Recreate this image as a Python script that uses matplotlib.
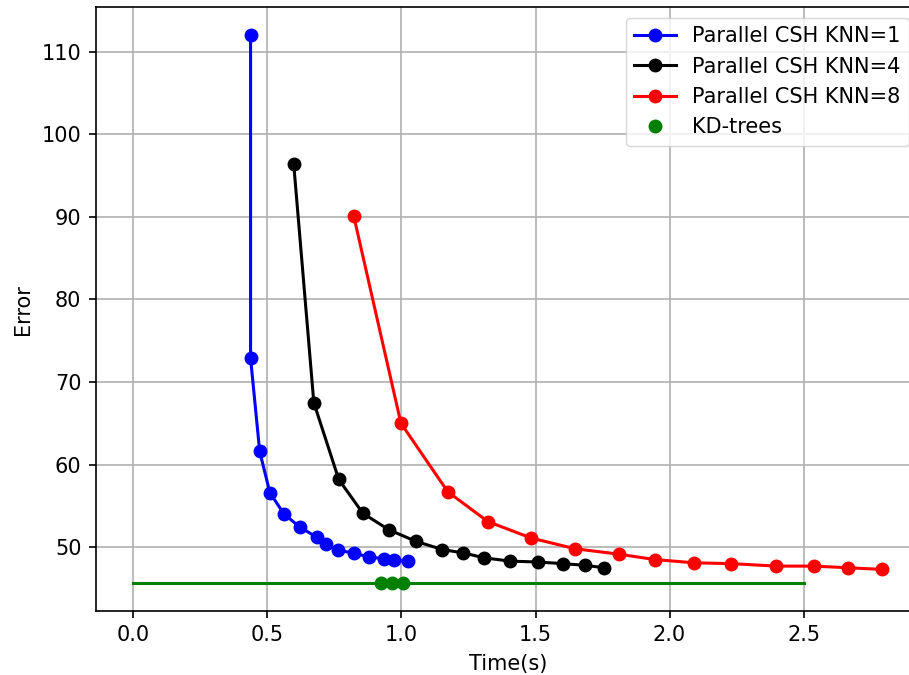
import matplotlib
matplotlib.use('Agg')
import matplotlib.pyplot as plt

plt.rcParams['font.size'] = 15
plt.rcParams['axes.labelpad'] = 6
plt.rcParams['xtick.major.pad'] = 5.25
plt.rcParams['ytick.major.pad'] = 5.25

# time (s) and error for each method
t_knn1 = [0.437, 0.437, 0.471, 0.509, 0.562, 0.622, 0.684, 0.72, 0.764, 0.821, 0.878, 0.933, 0.973, 1.023]
e_knn1 = [112.06, 72.9, 61.6, 56.6, 54.0, 52.4, 51.2, 50.4, 49.6, 49.3, 48.8, 48.6, 48.4, 48.3]

t_knn4 = [0.598, 0.673, 0.766, 0.856, 0.953, 1.054, 1.153, 1.231, 1.309, 1.406, 1.508, 1.602, 1.683, 1.757]
e_knn4 = [96.4, 67.5, 58.2, 54.1, 52.1, 50.7, 49.7, 49.3, 48.7, 48.3, 48.2, 48.0, 47.8, 47.5]

t_knn8 = [0.822, 0.998, 1.173, 1.322, 1.484, 1.648, 1.81, 1.944, 2.091, 2.231, 2.399, 2.539, 2.667, 2.793]
e_knn8 = [90.1, 65.0, 56.7, 53.1, 51.1, 49.8, 49.15, 48.5, 48.1, 48.0, 47.7, 47.7, 47.5, 47.3]

t_kd = [0.923, 0.964, 1.005]
e_kd = [45.6, 45.6, 45.6]
kd_line_x = [0.0, 2.5]

lw = 2.2
ms = 9

fig, ax = plt.subplots(figsize=(9.09, 6.75), dpi=100)
ax.plot(t_knn1, e_knn1, 'b-o', lw=lw, ms=ms, label='Parallel CSH KNN=1')
ax.plot(t_knn4, e_knn4, 'k-o', lw=lw, ms=ms, label='Parallel CSH KNN=4')
ax.plot(t_knn8, e_knn8, 'r-o', lw=lw, ms=ms, label='Parallel CSH KNN=8')
ax.plot(t_kd, e_kd, 'go', ms=ms, label='KD-trees')
ax.plot(kd_line_x, [e_kd[0]] * 2, 'g-', lw=lw)

ax.grid(True, color='#b0b0b0', linewidth=1.2)
ax.set_xlabel('Time(s)')
ax.set_ylabel('Error')
ax.tick_params(length=5.25, width=1.2)
for s in ax.spines.values():
    s.set_linewidth(1.2)
ax.legend(loc='upper right')

# the original image is cropped on the right, so the axes run past the edge
fig.subplots_adjust(left=0.1056, right=1.0116, top=0.989, bottom=0.095)
plt.savefig('out.png')
